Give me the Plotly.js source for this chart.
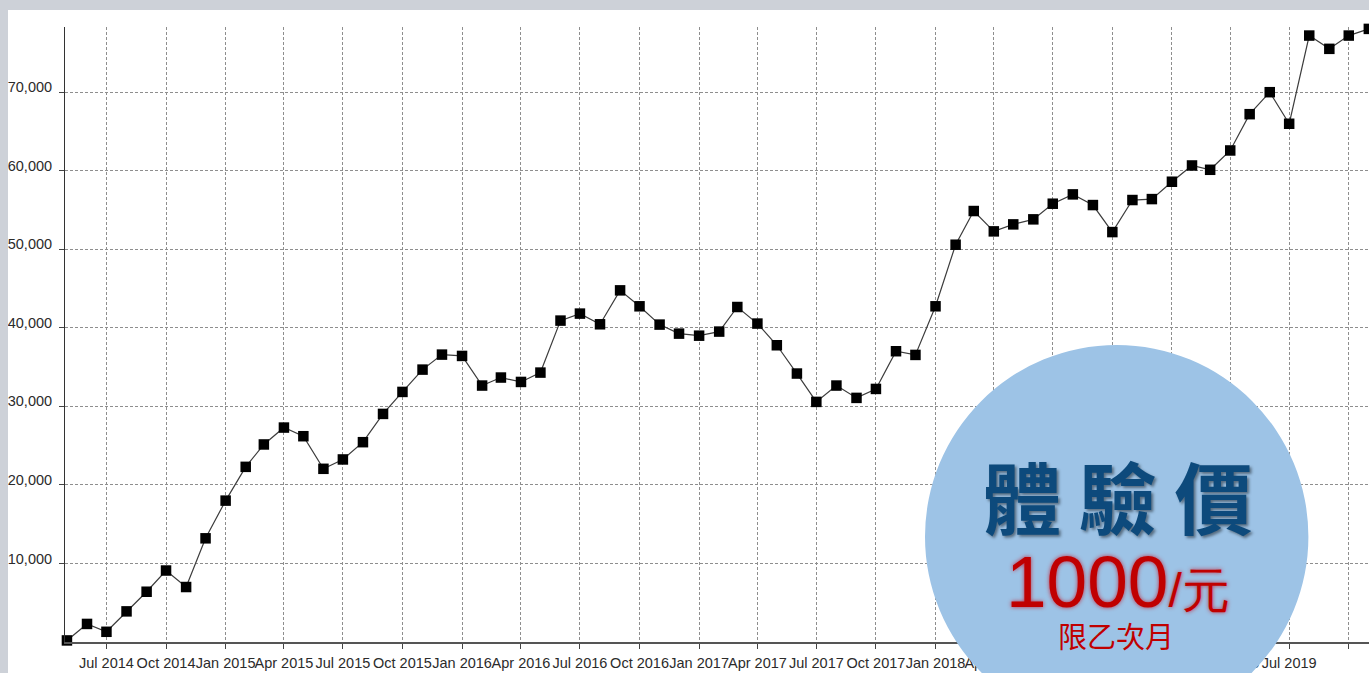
<!DOCTYPE html>
<html>
<head>
<meta charset="utf-8">
<script src="https://cdn.plot.ly/plotly-3.0.1.min.js"></script>
<style>
  html, body { margin: 0; padding: 0; background: #cdd1d8; overflow: hidden; }
  #chart { position: absolute; left: 8px; top: 10px; width: 1361px; height: 663px; background: #ffffff; }
</style>
</head>
<body>
<div id="chart"></div>
<script>
// ---- data ----
const months = [
  "2014-05-01","2014-06-01","2014-07-01","2014-08-01","2014-09-01","2014-10-01","2014-11-01","2014-12-01",
  "2015-01-01","2015-02-01","2015-03-01","2015-04-01","2015-05-01","2015-06-01","2015-07-01","2015-08-01","2015-09-01","2015-10-01","2015-11-01","2015-12-01",
  "2016-01-01","2016-02-01","2016-03-01","2016-04-01","2016-05-01","2016-06-01","2016-07-01","2016-08-01","2016-09-01","2016-10-01","2016-11-01","2016-12-01",
  "2017-01-01","2017-02-01","2017-03-01","2017-04-01","2017-05-01","2017-06-01","2017-07-01","2017-08-01","2017-09-01","2017-10-01","2017-11-01","2017-12-01",
  "2018-01-01","2018-02-01","2018-03-01","2018-04-01","2018-05-01","2018-06-01","2018-07-01","2018-08-01","2018-09-01","2018-10-01","2018-11-01","2018-12-01",
  "2019-01-01","2019-02-01","2019-03-01","2019-04-01","2019-05-01","2019-06-01","2019-07-01","2019-08-01","2019-09-01","2019-10-01","2019-11-01"
];
const values = [
  200, 2300, 1300, 3900, 6400, 9100, 7000, 13200,
  18000, 22300, 25150, 27300, 26200, 22050, 23240, 25440, 29040, 31840, 34680, 36590,
  36420, 32650, 33670, 33110, 34300, 40920, 41810, 40450, 44770, 42740, 40410, 39260,
  39000, 39520, 42650, 40540, 37780, 34180, 30570, 32650, 31080, 32220, 37020, 36550,
  42740, 50580, 54870, 52280, 53170, 53810, 55800, 56990, 55630, 52190, 56270, 56390,
  58600, 60670, 60120, 62580, 67200, 70000, 65980, 77210, 75520, 77210, 78060
];
const yTickVals = [10000, 20000, 30000, 40000, 50000, 60000, 70000];
const badgeTitle = "體 驗 價";
const badgePrice = "1000";
const badgeUnit = "/元";
const badgeNote = "限乙次月";

// ---- geometry helpers (page pixels -> paper coords) ----
const W = 1361, H = 663, offX = 8, offY = 10;
const M = { l: 57, r: 0, t: 17, b: 31 };
const plotW = W - M.l - M.r, plotH = H - M.t - M.b;
const px = x => (x - offX - M.l) / plotW;
const py = y => (H - M.b - (y - offY)) / plotH;

const tickFont = { family: "'Liberation Sans', Arial, sans-serif", size: 14.5, color: "#2b2b2b" };

const trace = {
  x: months, y: values, type: "scatter", mode: "lines+markers",
  line: { color: "#3c3c3c", width: 1.2 },
  marker: { symbol: "square", size: 10.5, color: "#000000" },
  cliponaxis: false, hoverinfo: "x+y"
};

const circle = { cx: 1116.7, cy: 536.7, r: 191.7 };

const layout = {
  width: W, height: H,
  margin: M,
  paper_bgcolor: "#ffffff", plot_bgcolor: "#ffffff",
  showlegend: false,
  xaxis: {
    type: "date",
    range: ["2014-04-28", "2019-11-01 06:00"],
    tick0: "2014-07-01", dtick: "M3", tickformat: "%b %Y",
    tickangle: 0,
    showgrid: true, gridcolor: "#8e8e8e", gridwidth: 1, griddash: "3px,2px",
    ticks: "outside", ticklen: 5, tickcolor: "#444", tickwidth: 1,
    showline: true, linecolor: "#555", linewidth: 1.5,
    tickfont: tickFont, zeroline: false, fixedrange: true,
    ticklabelstandoff: 2
  },
  yaxis: {
    range: [0, 78300],
    tickvals: yTickVals, tickformat: ",",
    showgrid: true, gridcolor: "#8e8e8e", gridwidth: 1, griddash: "3px,2px",
    ticks: "outside", ticklen: 5, tickcolor: "#444", tickwidth: 1,
    showline: true, linecolor: "#333", linewidth: 1,
    tickfont: tickFont, zeroline: false, fixedrange: true,
    ticklabelstandoff: 4, ticklabelshift: -5
  },
  shapes: [{
    type: "circle", xref: "paper", yref: "paper", layer: "above",
    x0: px(circle.cx - circle.r), x1: px(circle.cx + circle.r),
    y0: py(circle.cy + circle.r), y1: py(circle.cy - circle.r),
    fillcolor: "#9dc3e6", line: { width: 0 }
  }],
  annotations: [
    {
      xref: "paper", yref: "paper", x: px(1117.5), y: py(495), xanchor: "center", yanchor: "middle",
      text: badgeTitle, showarrow: false,
      font: { family: "'Noto Sans CJK TC', sans-serif", size: 78, color: "#0d4a7c", weight: 700,
              shadow: "2px 2px 3px rgba(0,0,0,0.45)" }
    },
    {
      xref: "paper", yref: "paper", x: px(1118), y: py(581), xanchor: "center", yanchor: "middle",
      text: badgePrice + '<span style="font-size:48px">' + badgeUnit + '</span>', showarrow: false,
      font: { family: "'Liberation Sans', Arial, sans-serif", size: 73, color: "#c00000",
              shadow: "0 0 4px rgba(200,0,20,0.75)" }
    },
    {
      xref: "paper", yref: "paper", x: px(1116), y: py(635), xanchor: "center", yanchor: "middle",
      text: badgeNote, showarrow: false,
      font: { family: "'Noto Sans CJK TC', sans-serif", size: 29, color: "#c00000" }
    }
  ]
};

Plotly.newPlot("chart", [trace], layout, { displayModeBar: false, staticPlot: true });
</script>
</body>
</html>
